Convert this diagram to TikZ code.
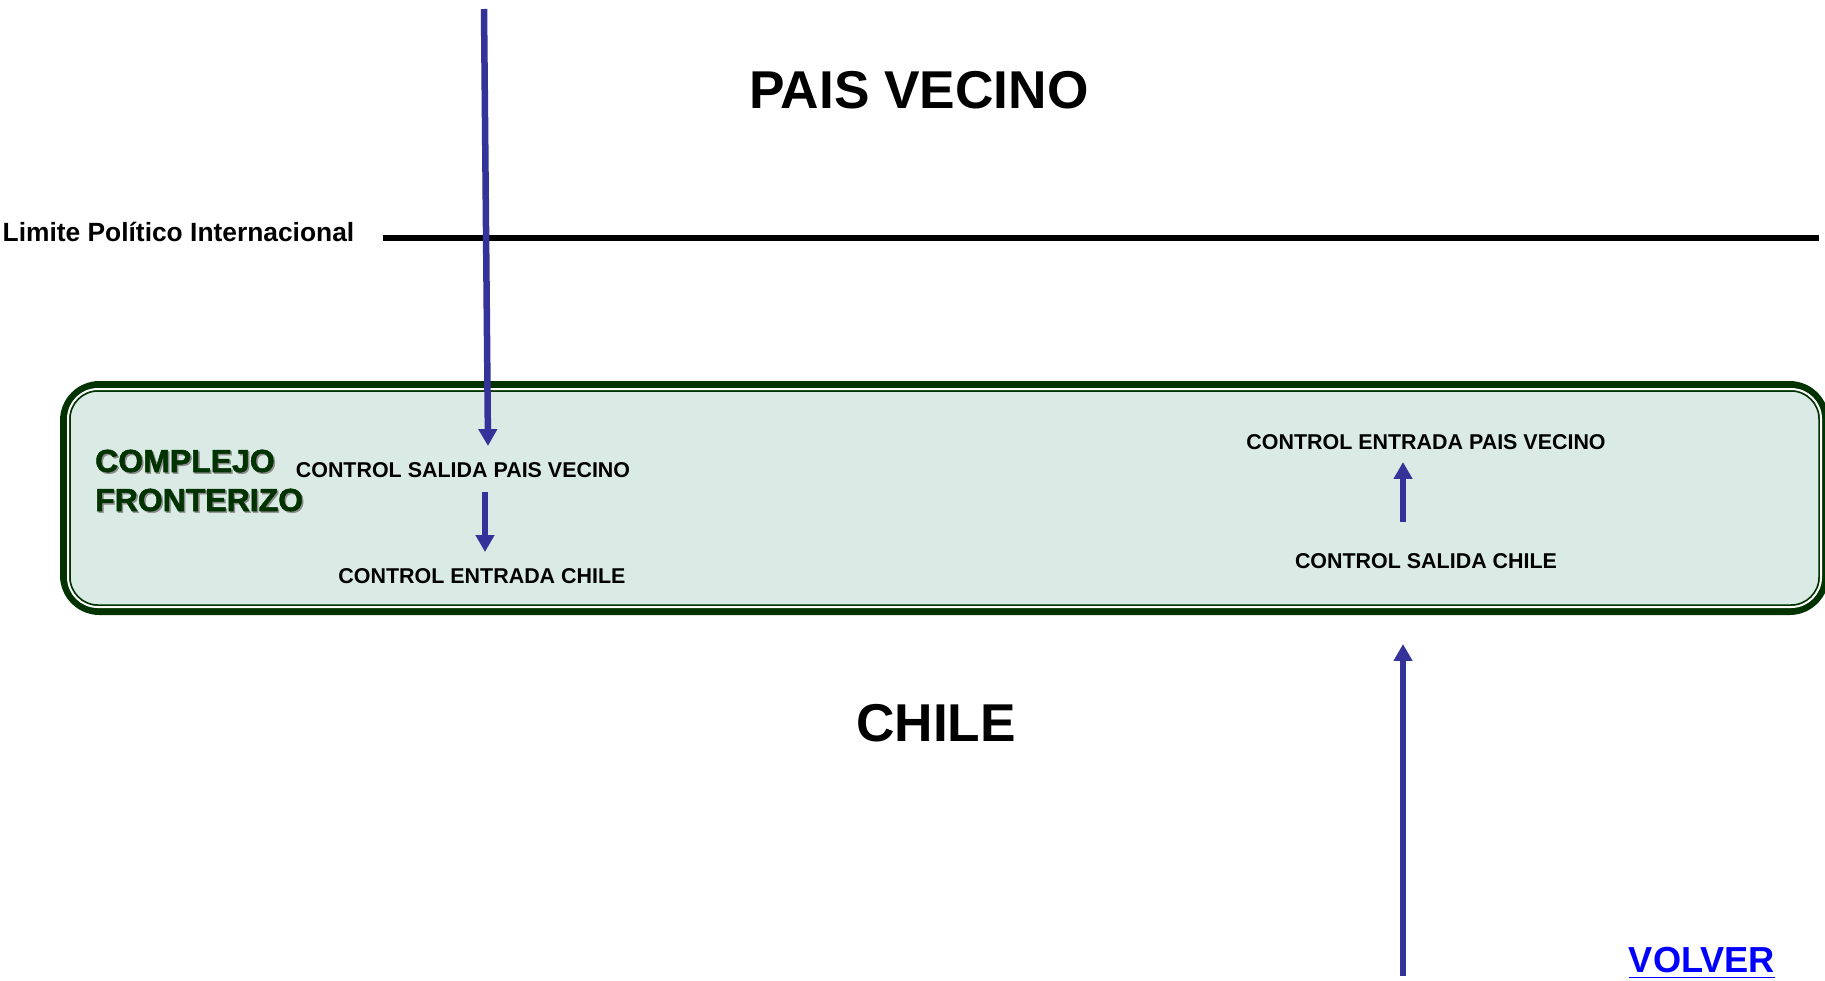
\documentclass[tikz,border=0pt]{standalone}
\usepackage{fontspec}
\setmainfont{Liberation Sans}
\newfontfamily\gruesa[BoldFont={Liberation Sans Bold},BoldFeatures={FakeBold=1.6}]{Liberation Sans}
\usetikzlibrary{arrows.meta,positioning}
\definecolor{verdeosc}{RGB}{0,51,0}
\definecolor{menta}{RGB}{217,235,228}
\definecolor{azulfl}{RGB}{51,51,153}
\definecolor{enlace}{RGB}{0,0,255}
\begin{document}
\begin{tikzpicture}[inner sep=0pt,
        flecha/.style={draw=azulfl,line width=1.85pt,-{Triangle[width=5.1pt,length=4.8pt]}},
        control/.style={font=\bfseries\fontsize{6.1}{7}\selectfont,anchor=base},
        titulo/.style={font=\bfseries\fontsize{15.15}{16}\selectfont,anchor=base},
        complejo/.style={font=\gruesa\bfseries\fontsize{9.1}{9}\selectfont,anchor=base west,text=verdeosc},
        sombra/.style={complejo,text=black!45}]
        \useasboundingbox (0,0) rectangle (18.25,9.80);
        % complejo fronterizo
        \draw[verdeosc,line width=0.07cm,fill=menta,rounded corners=0.36cm]
            (0.635,3.685) rectangle (18.255,5.955);
        \draw[verdeosc,line width=0.5pt,double=white,double distance=0.02cm,
            rounded corners=0.3cm] (0.68,3.73) rectangle (18.21,5.91);
        \node[sombra]   at (0.96,5.065)     (com_s)     {COMPLEJO};
        \node[sombra]   at (0.96,4.675)     (fro_s)     {FRONTERIZO};
        \node[complejo] at (0.945,5.08)     (com)       {COMPLEJO};
        \node[complejo] at (0.945,4.69)     (fro)       {FRONTERIZO};

        % limite
        \node[font=\bfseries\fontsize{7.5}{8}\selectfont,anchor=base west]
            at (0.02,7.39) (limite) {Limite Político Internacional};
        \coordinate (lim_a) at (3.83,7.42);
        \coordinate (lim_b) at (18.19,7.42);
        \draw[line width=1.7pt] (lim_a) -- (lim_b);

        \node[titulo]   at (9.19,8.72)      (vecino)    {PAIS VECINO};
        \node[titulo]   at (9.36,2.39)      (chile)     {CHILE};

        % controles
        \node[control]  at (4.63,5.025)     (sal_pv)    {CONTROL SALIDA PAIS VECINO};
        \node[control]  at (4.82,3.965)     (ent_ch)    {CONTROL ENTRADA CHILE};
        \node[control]  at (14.26,5.305)    (ent_pv)    {CONTROL ENTRADA PAIS VECINO};
        \node[control]  at (14.26,4.115)    (sal_ch)    {CONTROL SALIDA CHILE};

        \node[font=\bfseries\fontsize{10.3}{11}\selectfont,anchor=base,text=enlace]
            at (17.02,0.08) (volver) {\underline{VOLVER}};

        % flujos
        \coordinate (in_a)  at (4.84,9.71);
        \coordinate (in_b)  at (4.88,5.34);
        \coordinate (in_c)  at (4.85,4.88);
        \coordinate (in_d)  at (4.85,4.28);
        \coordinate (out_a) at (14.03,0.04);
        \coordinate (out_b) at (14.03,3.36);
        \coordinate (out_c) at (14.03,4.58);
        \coordinate (out_d) at (14.03,5.18);
        \draw[flecha] (in_a) -- (in_b);
        \draw[flecha] (in_c) -- (in_d);
        \draw[flecha] (out_a) -- (out_b);
        \draw[flecha] (out_c) -- (out_d);
\end{tikzpicture}
\end{document}
